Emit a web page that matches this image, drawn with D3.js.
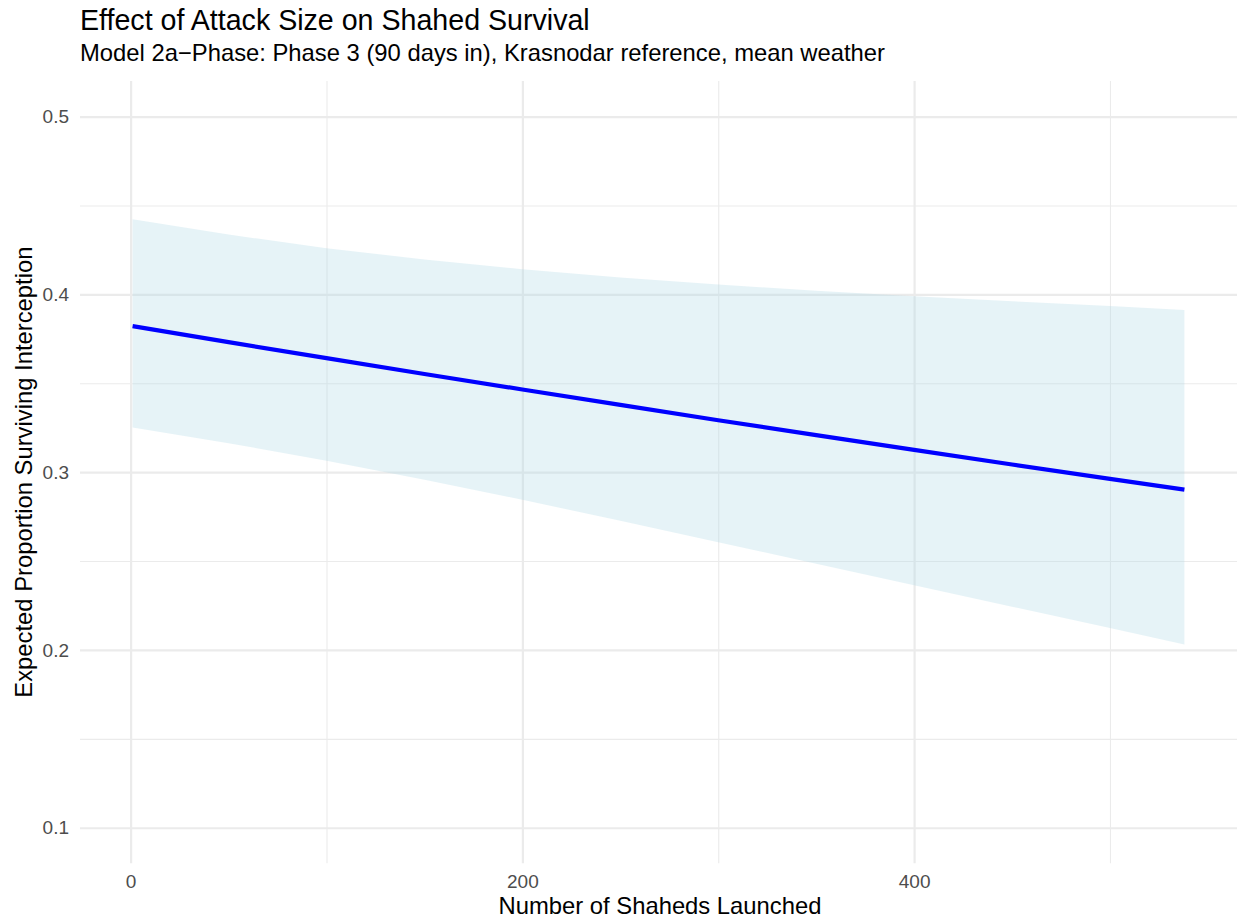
<!DOCTYPE html>
<html>
<head>
<meta charset="utf-8">
<script src="https://cdn.jsdelivr.net/npm/d3@7"></script>
<style>
  html, body { margin: 0; padding: 0; background: #fff; }
  svg { display: block; font-family: "Liberation Sans", Arial, sans-serif; }
</style>
</head>
<body>
<svg id="chart" width="1239" height="921"></svg>
<script>
// ---- data ----
const launched = [1, 50, 100, 150, 200, 250, 300, 350, 400, 450, 500, 538];
const fitted   = [0.3821, 0.3731, 0.3641, 0.3552, 0.3465, 0.3378, 0.3292, 0.3208, 0.3125, 0.3043, 0.2962, 0.2902];
const upperCI  = [0.4423, 0.4336, 0.4260, 0.4196, 0.4141, 0.4095, 0.4056, 0.4020, 0.3989, 0.3961, 0.3935, 0.3912];
const lowerCI  = [0.3251, 0.3163, 0.3064, 0.2957, 0.2845, 0.2726, 0.2606, 0.2485, 0.2364, 0.2243, 0.2124, 0.2030];
const xMajorTicks = [0, 200, 400];
const xMinorTicks = [100, 300, 500];
const yMajorTicks = [0.1, 0.2, 0.3, 0.4, 0.5];
const yMinorTicks = [0.15, 0.25, 0.35, 0.45];
const titleText = "Effect of Attack Size on Shahed Survival";
const subtitleText = "Model 2a\u2212Phase: Phase 3 (90 days in), Krasnodar reference, mean weather";
const xTitle = "Number of Shaheds Launched";
const yTitle = "Expected Proportion Surviving Interception";

const rows = launched.map((x, i) => ({ x, fit: fitted[i], lo: lowerCI[i], hi: upperCI[i] }));

// ---- layout ----
const panel = { left: 80, right: 1237, top: 81, bottom: 863.3 };
const svg = d3.select("#chart");

const x = d3.scaleLinear().domain([-25.85, 564.85]).range([panel.left, panel.right]);
const y = d3.scaleLinear().domain([0.08, 0.52]).range([panel.bottom, panel.top]);

const grid = svg.append("g");
// minor grid
grid.append("g")
  .attr("transform", `translate(0,${panel.bottom})`)
  .call(d3.axisBottom(x).tickValues(xMinorTicks).tickSize(-(panel.bottom - panel.top)).tickFormat(""))
  .call(g => g.select(".domain").remove())
  .call(g => g.selectAll("line").attr("stroke", "#EBEBEB").attr("stroke-width", 1.1));
grid.append("g")
  .attr("transform", `translate(${panel.left},0)`)
  .call(d3.axisLeft(y).tickValues(yMinorTicks).tickSize(-(panel.right - panel.left)).tickFormat(""))
  .call(g => g.select(".domain").remove())
  .call(g => g.selectAll("line").attr("stroke", "#EBEBEB").attr("stroke-width", 1.1));
// major grid
grid.append("g")
  .attr("transform", `translate(0,${panel.bottom})`)
  .call(d3.axisBottom(x).tickValues(xMajorTicks).tickSize(-(panel.bottom - panel.top)).tickFormat(""))
  .call(g => g.select(".domain").remove())
  .call(g => g.selectAll("line").attr("stroke", "#EBEBEB").attr("stroke-width", 2.2));
grid.append("g")
  .attr("transform", `translate(${panel.left},0)`)
  .call(d3.axisLeft(y).tickValues(yMajorTicks).tickSize(-(panel.right - panel.left)).tickFormat(""))
  .call(g => g.select(".domain").remove())
  .call(g => g.selectAll("line").attr("stroke", "#EBEBEB").attr("stroke-width", 2.2));

// ribbon
svg.append("path")
  .datum(rows)
  .attr("fill", "#ADD8E6")
  .attr("fill-opacity", 0.3)
  .attr("d", d3.area().x(d => x(d.x)).y0(d => y(d.lo)).y1(d => y(d.hi)));

// fitted line
svg.append("path")
  .datum(rows)
  .attr("fill", "none")
  .attr("stroke", "#0000FF")
  .attr("stroke-width", 4.2)
  .attr("d", d3.line().x(d => x(d.x)).y(d => y(d.fit)));

// tick labels
svg.append("g")
  .attr("transform", `translate(0,${panel.bottom})`)
  .call(d3.axisBottom(x).tickValues(xMajorTicks).tickSize(0).tickPadding(11).tickFormat(d3.format("d")))
  .call(g => g.select(".domain").remove())
  .call(g => g.selectAll("text").attr("fill", "#4D4D4D").style("font-size", "19px").style("font-family", "Liberation Sans, Arial, sans-serif"));
svg.append("g")
  .attr("transform", `translate(${panel.left},0)`)
  .call(d3.axisLeft(y).tickValues(yMajorTicks).tickSize(0).tickPadding(11).tickFormat(d3.format(".1f")))
  .call(g => g.select(".domain").remove())
  .call(g => g.selectAll("text").attr("fill", "#4D4D4D").style("font-size", "19px").style("font-family", "Liberation Sans, Arial, sans-serif"));

// titles
svg.append("text").attr("x", 80).attr("y", 29.5)
  .attr("fill", "#000").style("font-size", "28.6px").text(titleText);
svg.append("text").attr("x", 80).attr("y", 60.5)
  .attr("fill", "#000").style("font-size", "23.8px").text(subtitleText);
svg.append("text").attr("x", 660).attr("y", 914)
  .attr("text-anchor", "middle").attr("fill", "#000").style("font-size", "23.8px").text(xTitle);
svg.append("text")
  .attr("transform", `translate(32,${(panel.top + panel.bottom) / 2}) rotate(-90)`)
  .attr("text-anchor", "middle").attr("fill", "#000").style("font-size", "23.8px").text(yTitle);
</script>
</body>
</html>
